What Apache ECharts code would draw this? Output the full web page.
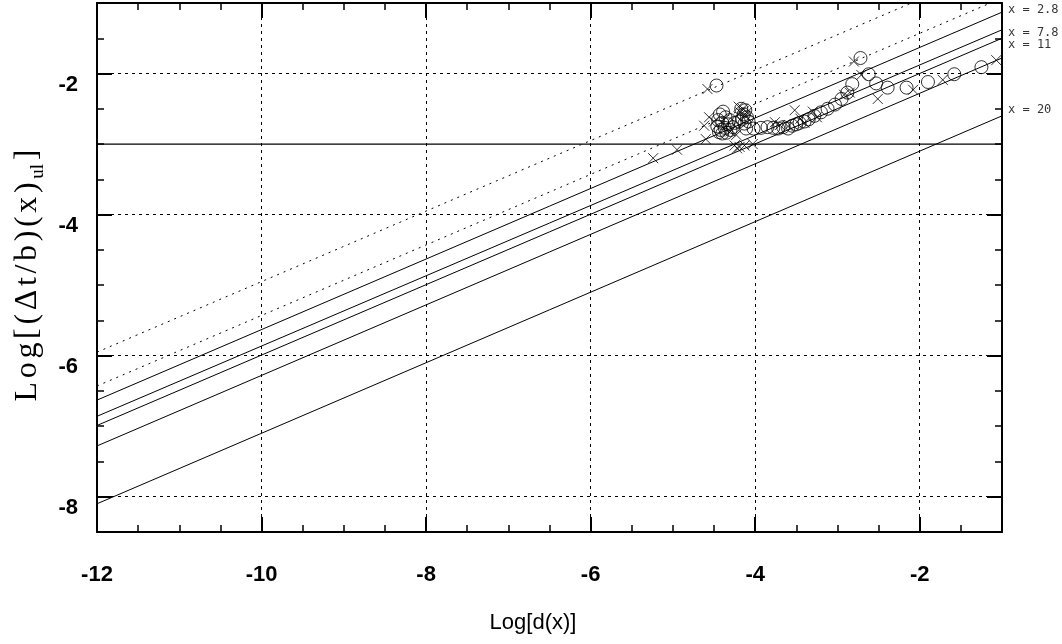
<!DOCTYPE html>
<html>
<head>
<meta charset="utf-8">
<script src="https://cdn.jsdelivr.net/npm/echarts@6/dist/echarts.min.js"></script>
<style>html,body{margin:0;padding:0;background:#fff;}#c{width:1062px;height:644px;}</style>
</head>
<body>
<div id="c"></div>
<script>
// ---- data ----
const xMajorTicks = [-12, -10, -8, -6, -4, -2];
const yMajorTicks = [-8, -6, -4, -2];
const xRange = [-12, -1];
const yRange = [-8.5, -1];

// straight reference lines: [start, end] in data units
const dottedLines = [
  [[-12, -5.95], [-2.1, -1.0]],
  [[-12, -6.43], [-1.14, -1.0]]
];
const solidLines = [
  [[-12, -6.63], [-1, -1.13]],
  [[-12, -6.86], [-1, -1.38]],
  [[-12, -6.99], [-1, -1.50]],
  [[-12, -7.28], [-1, -1.78]],
  [[-12, -8.10], [-1, -2.60]]
];
const levelLine = [[-12, -3], [-1, -3]];

const lineLabels = ['x = 2.8', 'x = 7.8', 'x = 11', 'x = 20'];
const lineLabelY = [-1.10, -1.43, -1.60, -2.52];

const circles = [
  [-4.47, -2.17], [-2.72, -1.78],
  [-4.39, -2.54], [-4.43, -2.58], [-4.36, -2.62],
  [-4.45, -2.66], [-4.40, -2.70], [-4.46, -2.75], [-4.42, -2.80], [-4.37, -2.77],
  [-4.33, -2.72], [-4.30, -2.80], [-4.35, -2.84], [-4.27, -2.76], [-4.25, -2.70],
  [-4.40, -2.85], [-4.44, -2.83], [-4.31, -2.66],
  [-4.17, -2.50], [-4.12, -2.52], [-4.14, -2.58], [-4.10, -2.62], [-4.16, -2.65],
  [-4.08, -2.68], [-4.13, -2.71], [-4.20, -2.68],
  [-4.11, -2.78], [-4.02, -2.78], [-3.93, -2.77], [-3.85, -2.76], [-3.78, -2.77],
  [-3.72, -2.78], [-3.66, -2.76], [-3.60, -2.78], [-3.55, -2.74], [-3.50, -2.72],
  [-3.46, -2.70], [-3.40, -2.68], [-3.35, -2.65], [-3.28, -2.60], [-3.20, -2.55],
  [-3.12, -2.50], [-3.03, -2.44], [-2.95, -2.36], [-2.88, -2.27], [-2.82, -2.15],
  [-2.62, -2.01], [-2.53, -2.14], [-2.39, -2.20], [-2.16, -2.20], [-1.90, -2.12],
  [-1.58, -2.01], [-1.25, -1.91]
];
const crosses = [
  [-4.58, -2.22],
  [-5.24, -3.20], [-4.95, -3.08], [-4.60, -2.93], [-4.62, -2.74], [-4.56, -2.62],
  [-4.50, -2.68],
  [-4.20, -2.47], [-4.15, -2.50], [-4.10, -2.55], [-4.18, -2.55], [-4.12, -2.60],
  [-4.23, -2.87], [-4.30, -2.82],
  [-4.25, -3.02], [-4.19, -3.04], [-4.13, -3.02], [-4.22, -3.06], [-4.03, -3.00],
  [-3.76, -2.69], [-3.70, -2.73], [-3.60, -2.75], [-3.52, -2.52], [-3.45, -2.64],
  [-3.40, -2.70], [-3.30, -2.54], [-3.25, -2.62],
  [-2.92, -2.30], [-2.85, -2.27], [-2.80, -1.83], [-2.71, -2.02],
  [-2.51, -2.36], [-2.08, -2.23], [-1.72, -2.09], [-1.07, -1.81]
];

// ---- chart ----
const black = '#000';
const labelFont = { fontFamily: 'Liberation Sans', fontWeight: 'bold', fontSize: 22, color: black };
// y title: characters as rich tokens separated by small gaps (the original uses wide letter spacing)
const gap = '{g|\u2006}';
const yTitle = 'Log[(Δt/b)(x)'.split('').map(ch => '{t|' + ch + '}').join(gap) + gap + '{s|ul}' + gap + '{t|]}';

function xAxisDef(pos, withLabels) {
  return {
    type: 'value', min: xRange[0], max: xRange[1], interval: 2, position: pos,
    axisLine: { show: true, onZero: false, lineStyle: { color: black, width: 2 } },
    axisTick: { show: true, inside: true, length: 15, lineStyle: { color: black, width: 2 } },
    minorTick: { show: true, splitNumber: 4, length: 7, lineStyle: { color: black, width: 1.5 } },
    axisLabel: withLabels ? Object.assign({
      show: true, margin: 32,
      formatter: v => xMajorTicks.includes(v) ? String(v) : ''
    }, labelFont) : { show: false },
    splitLine: { show: withLabels, lineStyle: { color: black, width: 1, type: [3, 4] } },
    name: withLabels ? 'Log[d(x)]' : '',
    nameLocation: 'middle', nameGap: 80,
    nameTextStyle: { fontFamily: 'Liberation Sans', fontSize: 22, color: black, padding: [0, 33, 0, 0] }
  };
}
function yMinorDef(pos, withLabels) {
  return {
    type: 'value', min: yRange[0], max: yRange[1], interval: 0.5, position: pos,
    axisLine: { show: true, onZero: false, lineStyle: { color: black, width: 2 } },
    axisTick: { show: true, inside: true, length: 7, lineStyle: { color: black, width: 1.5 } },
    axisLabel: withLabels ? Object.assign({
      show: true, margin: 19, verticalAlign: 'top',
      formatter: v => yMajorTicks.includes(v) ? String(v) : ''
    }, labelFont) : { show: false },
    splitLine: { show: false },
    name: withLabels ? yTitle : '',
    nameLocation: 'middle', nameGap: 48,
    nameTextStyle: {
      color: black, padding: [0, 16, 0, 0],
      rich: {
        t: { fontFamily: 'Liberation Serif', fontSize: 32, color: black, lineHeight: 40, verticalAlign: 'middle' },
        g: { fontFamily: 'Liberation Serif', fontSize: 22, color: black, lineHeight: 40, verticalAlign: 'middle' },
        s: { fontFamily: 'Liberation Serif', fontSize: 19, color: black, lineHeight: 19, verticalAlign: 'bottom' }
      }
    }
  };
}
function yMajorDef(pos, withGrid) {
  return {
    type: 'value', min: yRange[0], max: yRange[1], interval: 0.5, position: pos,
    axisLine: { show: false },
    axisTick: { show: true, inside: true, length: 15, customValues: yMajorTicks, lineStyle: { color: black, width: 2 } },
    axisLabel: { show: false },
    splitLine: { show: withGrid, lineStyle: { color: black, width: 1, type: [3, 4] } }
  };
}

const series = [];
dottedLines.forEach(d => series.push({
  type: 'line', data: d, symbol: 'none', clip: true, silent: true,
  lineStyle: { color: black, width: 1, type: [2, 5] }
}));
solidLines.forEach(d => series.push({
  type: 'line', data: d, symbol: 'none', clip: true, silent: true,
  lineStyle: { color: black, width: 1 }
}));
series.push({
  type: 'line', data: levelLine, symbol: 'none', clip: true, silent: true,
  lineStyle: { color: black, width: 1.2 }
});
series.push({
  type: 'scatter', data: circles, symbol: 'circle', symbolSize: 13,
  itemStyle: { color: 'rgba(0,0,0,0)', borderColor: black, borderWidth: 1 }
});
series.push({
  type: 'scatter', data: crosses, symbol: 'path://M0,0L10,10M10,0L0,10', symbolSize: 10,
  itemStyle: { color: 'rgba(0,0,0,0)', borderColor: black, borderWidth: 1 }
});
series.push({
  type: 'scatter', clip: false, symbolSize: 0,
  data: lineLabelY.map((y, i) => ({ value: [xRange[1], y], name: lineLabels[i] })),
  label: { show: true, position: 'right', distance: 6, formatter: p => p.name,
           fontFamily: 'DejaVu Sans Mono', fontSize: 12, color: black }
});

const chart = echarts.init(document.getElementById('c'), null, { renderer: 'canvas' });
chart.setOption({
  animation: false,
  backgroundColor: '#fff',
  grid: { left: 97, right: 60, top: 3, bottom: 112, containLabel: false },
  xAxis: [xAxisDef('bottom', true), xAxisDef('top', false)],
  yAxis: [yMinorDef('left', true), yMajorDef('left', true), yMinorDef('right', false), yMajorDef('right', false)],
  series: series
});
</script>
</body>
</html>
